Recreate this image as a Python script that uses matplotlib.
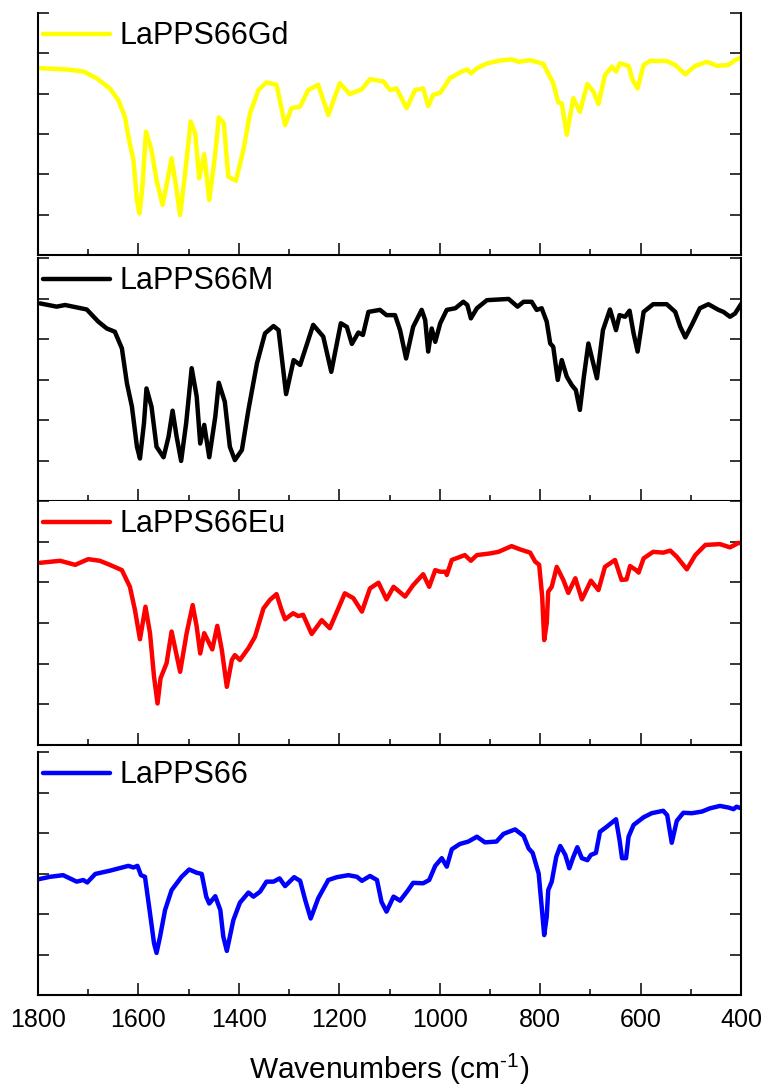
import numpy as np
import matplotlib.pyplot as plt

plt.rcParams['font.family'] = ['Liberation Sans', 'DejaVu Sans']
plt.rcParams['mathtext.fontset'] = 'custom'
plt.rcParams['mathtext.rm'] = 'Liberation Sans'

# FTIR spectra, wavenumber (cm-1) and offset-free intensity (arb. units, tick = 1)
gd_wn = [1796, 1743, 1710, 1683, 1657, 1640, 1627, 1620, 1610, 1603, 1598, 1592, 1585,
         1574, 1564, 1552, 1542, 1534, 1525, 1517, 1507, 1496, 1487, 1479, 1469, 1459,
         1447, 1440, 1430, 1421, 1406, 1391, 1378, 1361, 1345, 1325, 1308, 1295, 1278,
         1262, 1242, 1222, 1199, 1179, 1155, 1139, 1112, 1099, 1086, 1066, 1049, 1033,
         1023, 1013, 999, 980, 956, 945, 938, 926, 906, 880, 857, 843, 820, 794, 774,
         764, 757, 747, 734, 721, 706, 694, 684, 671, 657, 649, 641, 624, 616, 606, 594,
         581, 548, 531, 511, 491, 468, 448, 425, 412, 399]
gd_y = [4.63, 4.60, 4.55, 4.38, 4.13, 3.84, 3.43, 2.93, 2.36, 1.36, 1.03, 1.69, 3.06,
        2.60, 1.86, 1.24, 1.86, 2.40, 1.69, 0.99, 2.03, 3.31, 3.02, 1.90, 2.50, 1.36,
        2.52, 3.41, 3.27, 1.94, 1.84, 2.60, 3.51, 4.09, 4.28, 4.22, 3.22, 3.64, 3.68,
        4.09, 4.22, 3.47, 4.26, 3.99, 4.11, 4.36, 4.30, 4.09, 4.13, 3.64, 4.09, 4.13,
        3.69, 3.97, 4.02, 4.38, 4.55, 4.60, 4.50, 4.63, 4.75, 4.82, 4.85, 4.79, 4.83,
        4.74, 4.26, 3.78, 3.76, 2.98, 3.89, 3.55, 4.24, 4.05, 3.74, 4.46, 4.67, 4.55,
        4.75, 4.69, 4.34, 4.13, 4.71, 4.81, 4.81, 4.71, 4.48, 4.69, 4.79, 4.69, 4.71,
        4.83, 4.90]

m_wn = [1796, 1763, 1746, 1703, 1680, 1663, 1647, 1633, 1623, 1613, 1603, 1597, 1589,
        1584, 1574, 1564, 1550, 1540, 1532, 1524, 1515, 1505, 1494, 1484, 1477, 1469,
        1459, 1447, 1440, 1428, 1418, 1408, 1394, 1381, 1364, 1348, 1331, 1321, 1306,
        1291, 1278, 1252, 1232, 1216, 1197, 1185, 1175, 1162, 1153, 1142, 1119, 1106,
        1089, 1079, 1067, 1053, 1036, 1029, 1023, 1016, 1009, 999, 986, 969, 953, 945,
        938, 926, 906, 863, 845, 833, 817, 807, 797, 787, 780, 774, 765, 757, 747, 737,
        729, 721, 713, 704, 687, 675, 661, 649, 642, 631, 622, 614, 606, 594, 575, 548,
        531, 521, 511, 498, 482, 465, 445, 435, 422, 412, 399]
m_y = [4.88, 4.80, 4.84, 4.73, 4.43, 4.26, 4.18, 3.77, 2.91, 2.33, 1.34, 1.05, 1.92,
       2.78, 2.33, 1.34, 1.08, 1.59, 2.23, 1.59, 0.99, 1.92, 3.28, 2.58, 1.42, 1.88,
       1.08, 2.08, 2.92, 2.45, 1.34, 1.01, 1.26, 2.25, 3.40, 4.14, 4.32, 4.22, 2.64,
       3.48, 3.36, 4.35, 4.06, 3.19, 4.39, 4.30, 3.88, 4.16, 4.10, 4.67, 4.72, 4.59,
       4.59, 4.22, 3.52, 4.30, 4.72, 4.47, 3.69, 4.26, 3.93, 4.39, 4.72, 4.76, 4.92,
       4.84, 4.51, 4.76, 4.96, 4.99, 4.80, 4.92, 4.92, 4.72, 4.76, 4.43, 3.89, 3.81,
       2.99, 3.48, 3.07, 2.86, 2.74, 2.25, 3.07, 3.89, 3.03, 4.22, 4.73, 4.22, 4.59,
       4.55, 4.70, 4.14, 3.69, 4.67, 4.86, 4.86, 4.67, 4.30, 4.04, 4.35, 4.76, 4.86,
       4.72, 4.67, 4.55, 4.63, 4.88]

eu_wn = [1796, 1756, 1726, 1700, 1677, 1657, 1633, 1617, 1607, 1597, 1586, 1577, 1569,
         1562, 1556, 1544, 1534, 1517, 1504, 1492, 1484, 1477, 1469, 1453, 1443, 1434,
         1424, 1414, 1408, 1398, 1381, 1368, 1351, 1338, 1325, 1315, 1308, 1292, 1282,
         1272, 1255, 1235, 1219, 1189, 1172, 1155, 1139, 1122, 1106, 1092, 1069, 1053,
         1033, 1021, 1009, 999, 988, 986, 976, 950, 938, 926, 900, 883, 857, 840, 820,
         810, 802, 796, 792, 787, 784, 777, 767, 754, 744, 730, 717, 699, 684, 671, 651,
         638, 628, 621, 609, 604, 594, 575, 555, 541, 528, 508, 491, 471, 442, 422, 405,
         399]
eu_y = [4.48, 4.53, 4.43, 4.57, 4.53, 4.43, 4.30, 3.89, 3.32, 2.60, 3.40, 2.75, 1.68,
        1.02, 1.64, 2.01, 2.79, 1.80, 2.75, 3.44, 2.91, 2.25, 2.75, 2.35, 2.93, 2.34,
        1.43, 2.09, 2.21, 2.09, 2.38, 2.66, 3.36, 3.57, 3.71, 3.32, 3.09, 3.24, 3.17,
        3.20, 2.73, 3.07, 2.87, 3.73, 3.61, 3.28, 3.85, 3.99, 3.58, 3.89, 3.65, 3.93,
        4.20, 3.89, 4.30, 4.26, 4.26, 4.18, 4.55, 4.67, 4.53, 4.67, 4.71, 4.75, 4.89,
        4.81, 4.73, 4.51, 4.43, 3.65, 2.58, 2.99, 3.77, 3.89, 4.38, 4.06, 3.74, 4.10,
        3.58, 4.04, 3.81, 4.38, 4.55, 4.06, 4.07, 4.40, 4.30, 4.24, 4.59, 4.75, 4.73,
        4.78, 4.63, 4.32, 4.67, 4.92, 4.94, 4.86, 4.97, 4.96]

pps_wn = [1799, 1776, 1750, 1723, 1710, 1702, 1686, 1657, 1620, 1610, 1602, 1595, 1587,
          1577, 1569, 1564, 1557, 1547, 1534, 1514, 1499, 1484, 1474, 1465, 1459, 1447,
          1437, 1431, 1424, 1411, 1398, 1381, 1371, 1358, 1345, 1331, 1319, 1308, 1290,
          1278, 1268, 1257, 1242, 1222, 1205, 1182, 1165, 1155, 1139, 1125, 1116, 1106,
          1092, 1079, 1063, 1053, 1033, 1021, 1009, 996, 986, 976, 960, 943, 926, 910,
          887, 873, 850, 833, 823, 815, 803, 797, 792, 787, 784, 777, 768, 760, 750, 742,
          734, 726, 717, 706, 699, 689, 681, 667, 649, 642, 637, 629, 624, 614, 594, 578,
          555, 547, 538, 528, 515, 498, 478, 462, 442, 425, 415, 409, 399]
pps_y = [2.86, 2.92, 2.96, 2.80, 2.84, 2.78, 2.99, 3.07, 3.19, 3.15, 3.19, 2.96, 2.92,
         2.02, 1.28, 1.04, 1.44, 2.10, 2.59, 2.92, 3.10, 3.02, 2.99, 2.43, 2.26, 2.44,
         2.10, 1.44, 1.09, 1.85, 2.28, 2.53, 2.43, 2.55, 2.80, 2.80, 2.88, 2.69, 2.91,
         2.82, 2.35, 1.89, 2.39, 2.84, 2.91, 2.96, 2.92, 2.82, 2.94, 2.84, 2.30, 2.06,
         2.43, 2.33, 2.59, 2.77, 2.76, 2.84, 3.19, 3.38, 3.17, 3.60, 3.73, 3.79, 3.91,
         3.77, 3.79, 3.98, 4.09, 3.93, 3.62, 3.51, 3.00, 2.18, 1.48, 1.93, 2.59, 2.80,
         3.41, 3.68, 3.46, 3.13, 3.41, 3.65, 3.38, 3.33, 3.46, 3.51, 4.03, 4.16, 4.34,
         3.83, 3.38, 3.38, 3.91, 4.20, 4.39, 4.49, 4.55, 4.44, 3.76, 4.30, 4.50, 4.49,
         4.53, 4.61, 4.67, 4.63, 4.59, 4.65, 4.61]

labels = ['LaPPS66Gd', 'LaPPS66M', 'LaPPS66Eu', 'LaPPS66']
colors = ['#ffff00', 'black', '#ff0000', '#0000ff']
series = [(gd_wn, gd_y), (m_wn, m_y), (eu_wn, eu_y), (pps_wn, pps_y)]

fig = plt.figure(figsize=(7.68, 10.92), dpi=100)
# axes boxes in figure fraction (left, bottom, width, height)
boxes = [[0.0495, 0.7665, 0.9154, 0.2216],
         [0.0495, 0.5412, 0.9154, 0.2225],
         [0.0495, 0.3178, 0.9154, 0.2234],
         [0.0495, 0.0888, 0.9154, 0.2225]]

for i, (box, (wn, y)) in enumerate(zip(boxes, series)):
    ax = fig.add_axes(box)
    ax.plot(wn, y, color=colors[i], lw=3.2, label=labels[i],
            solid_joinstyle='round', solid_capstyle='round')
    ax.set_xlim(1800, 400)
    ax.set_ylim(0, 6)
    ax.set_yticks(range(7))
    ax.set_yticklabels([])
    ax.set_xticks(np.arange(1800, 399, -200))
    ax.set_xticks(np.arange(1700, 400, -200), minor=True)
    ax.spines['top'].set_visible(False)
    for s in ['left', 'right', 'bottom']:
        ax.spines[s].set_linewidth(1.5)
    ax.tick_params(axis='y', direction='in', left=True, right=True,
                   length=8, width=1.1)
    ax.tick_params(axis='x', which='major', direction='in', length=9, width=1.1,
                   labelsize=18, pad=9)
    ax.tick_params(axis='x', which='minor', direction='in', length=4.5, width=1.1)
    if i < 3:
        ax.set_xticklabels([])
    else:
        ax.set_xlabel(r'Wavenumbers (cm$^{\text{-1}}$)', fontsize=21.5, labelpad=14)
    ax.legend(loc='upper left', bbox_to_anchor=(0.005, 0.972), frameon=False,
              fontsize=22, handlelength=2.2, handletextpad=0.3,
              borderaxespad=0, borderpad=0.05)

fig.savefig('out.png', dpi=100)
